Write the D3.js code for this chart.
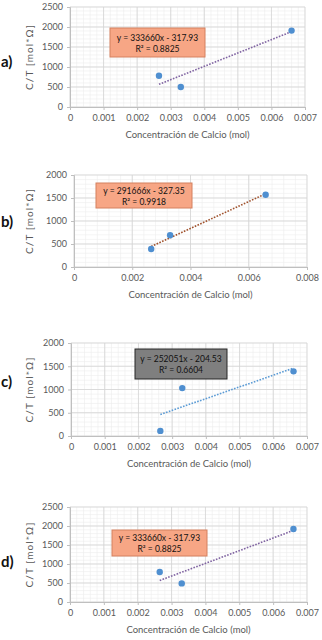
<!DOCTYPE html>
<html>
<head>
<meta charset="utf-8">
<script src="https://cdn.jsdelivr.net/npm/d3@7"></script>
<style>
  body { margin: 0; background: #fff; }
  svg { display: block; }
  text { font-family: Lato, "Open Sans", sans-serif; }
</style>
</head>
<body>
<svg id="chart" width="322" height="640"></svg>
<script>
// Data
const panelLabels = ["a)", "b)", "c)", "d)"];
const concA = [0.00265, 0.0033, 0.0066];
const ctA = [780, 500, 1910];
const concB = [0.00265, 0.0033, 0.00658];
const ctB = [390, 690, 1570];
const concC = [0.00265, 0.0033, 0.0066];
const ctC = [110, 1030, 1390];
const concD = [0.00265, 0.0033, 0.0066];
const ctD = [790, 490, 1920];

// trend equations (slope, intercept, R²)
const slopes = [333660, 291666, 252051, 333660];
const intercepts = [-317.93, -327.35, -204.53, -317.93];
const r2 = ["0.8825", "0.9918", "0.6604", "0.8825"];

const xMaxes = [0.007, 0.008, 0.007, 0.007];
const xTicks = [
  [0, 0.001, 0.002, 0.003, 0.004, 0.005, 0.006, 0.007],
  [0, 0.002, 0.004, 0.006, 0.008],
  [0, 0.001, 0.002, 0.003, 0.004, 0.005, 0.006, 0.007],
  [0, 0.001, 0.002, 0.003, 0.004, 0.005, 0.006, 0.007]
];
const yMaxes = [2500, 2000, 2000, 2500];

const svg = d3.select("#chart");

// layout per panel: plot box, label box, etc.
const layouts = [
  { left: 70, right: 305, top: 7, bottom: 107, tag: 62, box: [110, 28, 95, 29], fill: "#f7a685", stroke: "#d4805f", trend: "#8064a2" },
  { left: 74, right: 307, top: 175, bottom: 267, tag: 222, box: [96, 183, 96, 25], fill: "#f7a685", stroke: "#d4805f", trend: "#a0522d" },
  { left: 71, right: 307, top: 343, bottom: 436, tag: 382, box: [135, 349, 92, 30], fill: "#7f7f7f", stroke: "#262626", trend: "#5b9bd5" },
  { left: 70, right: 307, top: 507, bottom: 602, tag: 562, box: [112, 530, 95, 26], fill: "#f7a685", stroke: "#d4805f", trend: "#8064a2" }
];

const allConc = [concA, concB, concC, concD];
const allCt = [ctA, ctB, ctC, ctD];

layouts.forEach((L, i) => drawPanel(L, i));

function drawPanel(L, i) {
  const g = svg.append("g");
  const x = d3.scaleLinear().domain([0, xMaxes[i]]).range([L.left, L.right]);
  const y = d3.scaleLinear().domain([0, yMaxes[i]]).range([L.bottom, L.top]);

  // minor grid
  const xStep = xTicks[i][1] / 5;
  const xMinor = d3.range(0, xMaxes[i] + 1e-9, xStep);
  const yMinor = d3.range(0, yMaxes[i] + 1, 100);
  g.append("g").selectAll("line.vx").data(xMinor).join("line")
    .attr("x1", d => x(d)).attr("x2", d => x(d))
    .attr("y1", L.top).attr("y2", L.bottom)
    .attr("stroke", "#ececec").attr("stroke-width", 0.6);
  g.append("g").selectAll("line.hy").data(yMinor).join("line")
    .attr("x1", L.left).attr("x2", L.right)
    .attr("y1", d => y(d)).attr("y2", d => y(d))
    .attr("stroke", "#ececec").attr("stroke-width", 0.6);

  // major grid
  const yMajor = d3.range(0, yMaxes[i] + 1, 500);
  g.append("g").selectAll("line").data(xTicks[i]).join("line")
    .attr("x1", d => x(d)).attr("x2", d => x(d))
    .attr("y1", L.top).attr("y2", L.bottom)
    .attr("stroke", "#d4d4d4").attr("stroke-width", 0.8);
  g.append("g").selectAll("line").data(yMajor).join("line")
    .attr("x1", L.left).attr("x2", L.right)
    .attr("y1", d => y(d)).attr("y2", d => y(d))
    .attr("stroke", "#d4d4d4").attr("stroke-width", 0.8);

  // axes
  const xAxis = g.append("g")
    .attr("transform", `translate(0,${L.bottom})`)
    .call(d3.axisBottom(x).tickValues(xTicks[i]).tickSize(3).tickPadding(5)
      .tickFormat(d => d === 0 ? "0" : d3.format(".3f")(d)));
  const yAxis = g.append("g")
    .attr("transform", `translate(${L.left},0)`)
    .call(d3.axisLeft(y).tickValues(yMajor).tickSize(3).tickPadding(4)
      .tickFormat(d3.format("d")));
  [xAxis, yAxis].forEach(a => {
    a.select(".domain").attr("stroke", "#bfbfbf");
    a.selectAll(".tick line").attr("stroke", "#bfbfbf");
    a.selectAll("text").attr("fill", "#595959").attr("font-size", 9)
      .attr("font-family", "Lato, 'Open Sans', sans-serif");
  });

  // axis titles
  g.append("text")
    .attr("x", (L.left + L.right) / 2)
    .attr("y", L.bottom + 31)
    .attr("text-anchor", "middle")
    .attr("font-size", 9.5)
    .attr("fill", "#595959")
    .text("Concentración de Calcio (mol)");
  g.append("text")
    .attr("transform", `translate(33,${(L.top + L.bottom) / 2}) rotate(-90)`)
    .attr("text-anchor", "middle")
    .attr("font-size", 10)
    .attr("letter-spacing", 1.1)
    .attr("fill", "#595959")
    .text("C/T  [mol*Ω]");

  // panel tag
  g.append("text")
    .attr("x", 1)
    .attr("y", L.tag + 5)
    .attr("font-family", "'Liberation Sans', Arial, sans-serif")
    .attr("font-weight", "bold")
    .attr("font-size", 15)
    .attr("fill", "#111")
    .text(panelLabels[i]);

  // trendline
  const xs = allConc[i];
  const x0 = d3.min(xs), x1 = d3.max(xs);
  g.append("line")
    .attr("x1", x(x0)).attr("y1", y(slopes[i] * x0 + intercepts[i]))
    .attr("x2", x(x1)).attr("y2", y(slopes[i] * x1 + intercepts[i]))
    .attr("stroke", L.trend)
    .attr("stroke-width", 1.6)
    .attr("stroke-dasharray", "1.6,1.4");

  // points
  g.append("g").selectAll("circle")
    .data(xs.map((c, k) => [c, allCt[i][k]]))
    .join("circle")
    .attr("cx", d => x(d[0]))
    .attr("cy", d => y(d[1]))
    .attr("r", 3.2)
    .attr("fill", "#4f8fd0");

  // equation box
  const [bx, by, bw, bh] = L.box;
  g.append("rect")
    .attr("x", bx).attr("y", by).attr("width", bw).attr("height", bh)
    .attr("fill", L.fill).attr("stroke", L.stroke).attr("stroke-width", 1);
  const sign = intercepts[i] < 0 ? " - " : " + ";
  g.append("text")
    .attr("x", bx + bw / 2).attr("y", by + bh / 2 - 2)
    .attr("text-anchor", "middle")
    .attr("font-size", 8.5)
    .attr("fill", "#111")
    .text(`y = ${slopes[i]}x${sign}${Math.abs(intercepts[i]).toFixed(2)}`);
  g.append("text")
    .attr("x", bx + bw / 2).attr("y", by + bh / 2 + 9)
    .attr("text-anchor", "middle")
    .attr("font-size", 8.5)
    .attr("fill", "#111")
    .text(`R² = ${r2[i]}`);
}
</script>
</body>
</html>
